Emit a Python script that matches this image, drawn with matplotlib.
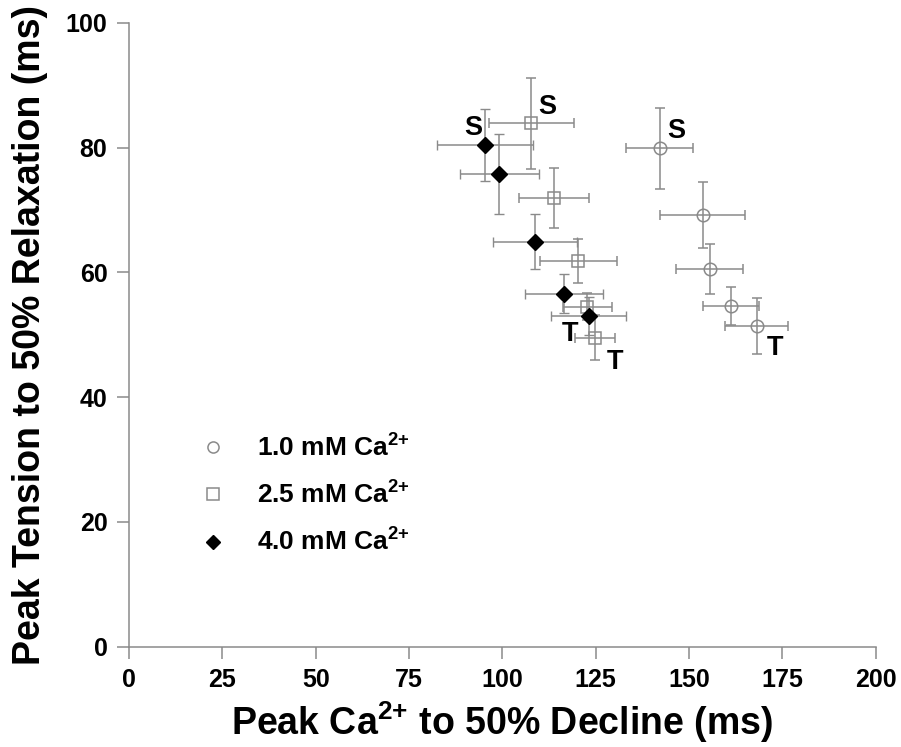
import matplotlib
matplotlib.use("Agg")
import matplotlib.pyplot as plt
from matplotlib.lines import Line2D

plt.rcParams['font.family'] = ['Liberation Sans', 'DejaVu Sans']
plt.rcParams['font.weight'] = 'bold'
plt.rcParams['mathtext.fontset'] = 'custom'
plt.rcParams['mathtext.rm'] = 'Liberation Sans:bold'
plt.rcParams['mathtext.bf'] = 'Liberation Sans:bold'
plt.rcParams['mathtext.it'] = 'Liberation Sans:bold'
plt.rcParams['mathtext.default'] = 'bf'

# 1.0 mM Ca2+
x1 = [142.1, 153.7, 155.5, 161.3, 168.1]
y1 = [79.9, 69.2, 60.5, 54.6, 51.4]
xe1 = [9.1, 11.4, 9.0, 7.5, 8.5]
ye1 = [6.5, 5.3, 4.0, 3.0, 4.5]
# 2.5 mM Ca2+
x2 = [107.7, 113.8, 120.3, 122.8, 124.8]
y2 = [83.9, 71.9, 61.8, 54.5, 49.5]
xe2 = [11.4, 9.4, 10.3, 6.5, 5.4]
ye2 = [7.3, 4.8, 3.5, 2.2, 3.6]
# 4.0 mM Ca2+
x3 = [95.4, 99.2, 108.8, 116.5, 123.1]
y3 = [80.4, 75.8, 64.9, 56.6, 53.0]
xe3 = [12.9, 10.5, 11.2, 10.4, 10.0]
ye3 = [5.8, 6.4, 4.4, 3.2, 3.0]

labels = ['1.0 mM Ca$^{2{+}}$', '2.5 mM Ca$^{2{+}}$', '4.0 mM Ca$^{2{+}}$']
# annotation letters and positions
ann_text = ['S', 'S', 'S', 'T', 'T', 'T']
ann_x = [146.5, 111.9, 92.2, 173.1, 130.2, 118.1]
ann_y = [82.7, 86.5, 83.1, 47.8, 45.7, 50.1]

xticks = [0, 25, 50, 75, 100, 125, 150, 175, 200]
yticks = [0, 20, 40, 60, 80, 100]

grey = '#8a8a8a'

fig = plt.figure(figsize=(9.01, 7.47), dpi=100)
ax = fig.add_axes([0.1432, 0.1343, 0.8287, 0.8353])

ekw = dict(ecolor=grey, elinewidth=1.1, capsize=3.5, capthick=1.1, linestyle='none', zorder=2)
ax.errorbar(x1, y1, xerr=xe1, yerr=ye1, marker='o', ms=9, mfc='none', mec=grey, mew=1.1, **ekw)
ax.errorbar(x2, y2, xerr=xe2, yerr=ye2, marker='s', ms=8.5, mfc='none', mec=grey, mew=1.1, **ekw)
ax.errorbar(x3, y3, xerr=xe3, yerr=ye3, marker='D', ms=8, mfc='black', mec='black', mew=1, **ekw)

for t, tx, ty in zip(ann_text, ann_x, ann_y):
    ax.text(tx, ty, t, fontsize=19.5, fontweight='bold', ha='center', va='center')

ax.set_xlim(0, 200)
ax.set_ylim(0, 100)
ax.set_xticks(xticks)
ax.set_yticks(yticks)
for s in ['top', 'right']:
    ax.spines[s].set_visible(False)
for s in ['left', 'bottom']:
    ax.spines[s].set_color(grey)
    ax.spines[s].set_linewidth(1.1)
ax.tick_params(axis='both', direction='out', length=8.5, width=1.1, color=grey,
               labelsize=18, pad=7)
for lab in ax.get_xticklabels() + ax.get_yticklabels():
    lab.set_fontweight('bold')

ax.set_xlabel('Peak Ca$^{2{+}}$ to 50% Decline (ms)', fontsize=27, fontweight='bold', labelpad=5)
ax.set_ylabel('Peak Tension to 50% Relaxation (ms)', fontsize=27, fontweight='bold')
ax.yaxis.set_label_coords(-0.109, 0.5)

handles = [
    Line2D([], [], marker='o', ls='none', ms=8, mfc='none', mec=grey, mew=1.1),
    Line2D([], [], marker='s', ls='none', ms=8, mfc='none', mec=grey, mew=1.1),
    Line2D([], [], marker='D', ls='none', ms=7, mfc='black', mec='black'),
]
leg = ax.legend(handles, labels, loc='center left', bbox_to_anchor=(0.06, 0.243),
                frameon=False, handlelength=1.2, handletextpad=1.05,
                labelspacing=0.76, prop={'weight': 'bold', 'size': 19})

fig.savefig('out.png', dpi=100)
